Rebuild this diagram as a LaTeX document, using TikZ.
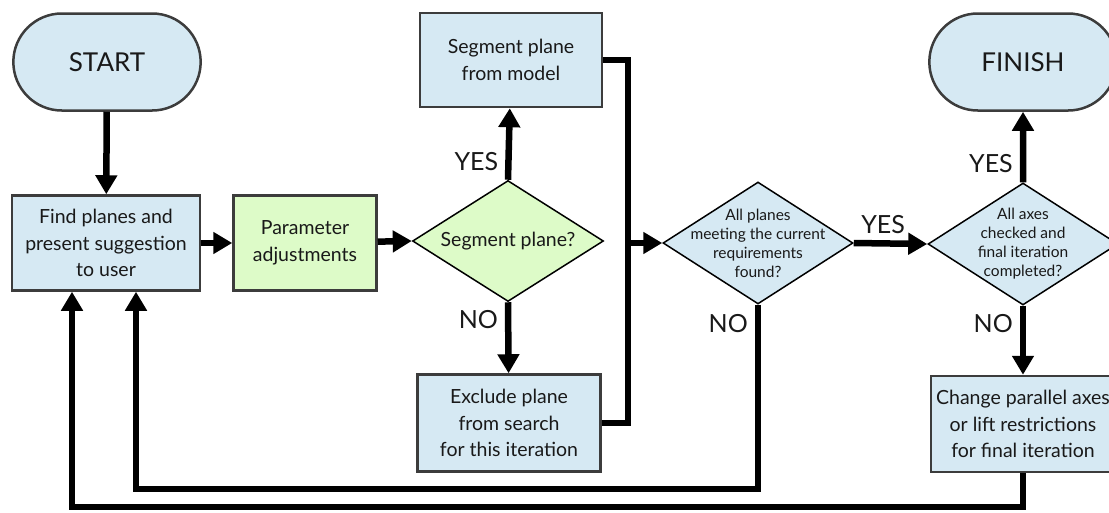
\documentclass[tikz,border=0pt]{standalone}
\usepackage{fontspec}
\setmainfont{Lato}
\usepackage{tikz}
\usetikzlibrary{shapes.geometric}
\usetikzlibrary{shapes.misc}
\usetikzlibrary{arrows.meta}
\usetikzlibrary{positioning}
\definecolor{paleblue}{RGB}{214, 233, 243}
\definecolor{palegreen}{RGB}{221, 251, 200}
\definecolor{edgegray}{RGB}{60, 60, 60}
\definecolor{inkblack}{RGB}{25, 25, 25}

\tikzset{
  terminal/.style={rounded rectangle, draw=edgegray, line width=2.5pt, fill=paleblue, text=inkblack,
                   minimum width=194pt, minimum height=97pt, font=\fontsize{26}{30}\selectfont},
  process/.style={rectangle, draw=edgegray, line width=2.5pt, fill=paleblue, text=inkblack, align=center,
                  minimum width=188pt, minimum height=95pt, inner sep=0pt, font=\fontsize{19.5}{26.5}\selectfont},
  decision/.style={diamond, draw=black, line width=1.5pt, fill=paleblue, inner sep=0pt,
                   minimum width=190pt, minimum height=122pt},
  decisiontext/.style={align=center, text=inkblack, inner sep=0pt, font=\fontsize{19.5}{26}\selectfont},
  smalltext/.style={decisiontext, font=\fontsize{15.5}{19}\selectfont},
  flow/.style={line width=6.5pt, -{Triangle[width=21pt,length=19pt]}},
  loopline/.style={line width=6.5pt},
  answer/.style={font=\fontsize{25}{28}\selectfont, text=inkblack, inner sep=0pt}
}

\begin{document}
\begin{tikzpicture}[x=1pt, y=-1pt]
    \useasboundingbox (0,0) rectangle (1109,512);
    \clip (0,0) rectangle (1109,512);

    % first column and the two steps before the first test
    \node[terminal] (start) at (107, 62) {START};
    \node[process]  (find)  at (106,243) {Find planes and\\present suggestion\\to user};
    \node[process, fill=palegreen, minimum width=143pt] (param) at (305,243) {Parameter\\adjustments};

    % segmenting test
    \node[decision, fill=palegreen, minimum width=191pt, minimum height=121pt,
          label={[decisiontext]center:Segment plane?}] (seg) at (508,241) {};
    \node[process, minimum width=182pt, minimum height=94pt]  (model) at (511, 60) {Segment plane\\from model};
    \node[process, minimum width=183pt, minimum height=97pt]  (excl)  at (509,423) {Exclude plane\\from search\\for this iteration};

    % the two later tests
    \node[decision, label={[smalltext]center:All planes\\meeting the current\\requirements\\found?}] (found) at (758,243) {};
    \node[decision, label={[smalltext]center:All axes\\checked and\\final iteration\\completed?}] (check) at (1023,244) {};
    \node[terminal] (finish) at (1023, 62) {FINISH};
    \node[process, minimum width=184pt, minimum height=96pt] (change) at (1023,424) {Change parallel axes\\or lift restrictions\\for final iteration};

    \coordinate (bus)   at (628,243);
    \coordinate (back1) at (136,489);
    \coordinate (back2) at ( 72,507);

    % connectors
    \draw[flow] (start) -- (find);
    \draw[flow] (find) -- (param);
    \draw[flow] (param) -- (seg.west);
    \draw[flow] (seg.north) -- node[answer, left=7pt, pos=0.25] {YES} (model);
    \draw[flow] (seg.south) -- node[answer, left=7pt, pos=0.25] {NO} (excl);
    \draw[loopline] (model.east) -| (bus) |- (excl.east);
    \draw[flow] (bus) -- (found.west);
    \draw[flow] (found.east) -- node[answer, above=6pt, pos=0.4] {YES} (check.west);
    \draw[flow] (check.north) -- node[answer, left=7pt, pos=0.27] {YES} (finish);
    \draw[flow] (check.south) -- node[answer, left=7pt, pos=0.26] {NO} (change);
    \draw[flow] (found.south) -- node[answer, left=7pt, pos=0.1] {NO} (found.south |- back1) -- (back1) -- (find.south -| back1);
    \draw[flow] (change.south) -- (change.south |- back2) -- (back2) -- (find.south -| back2);
\end{tikzpicture}
\end{document}
